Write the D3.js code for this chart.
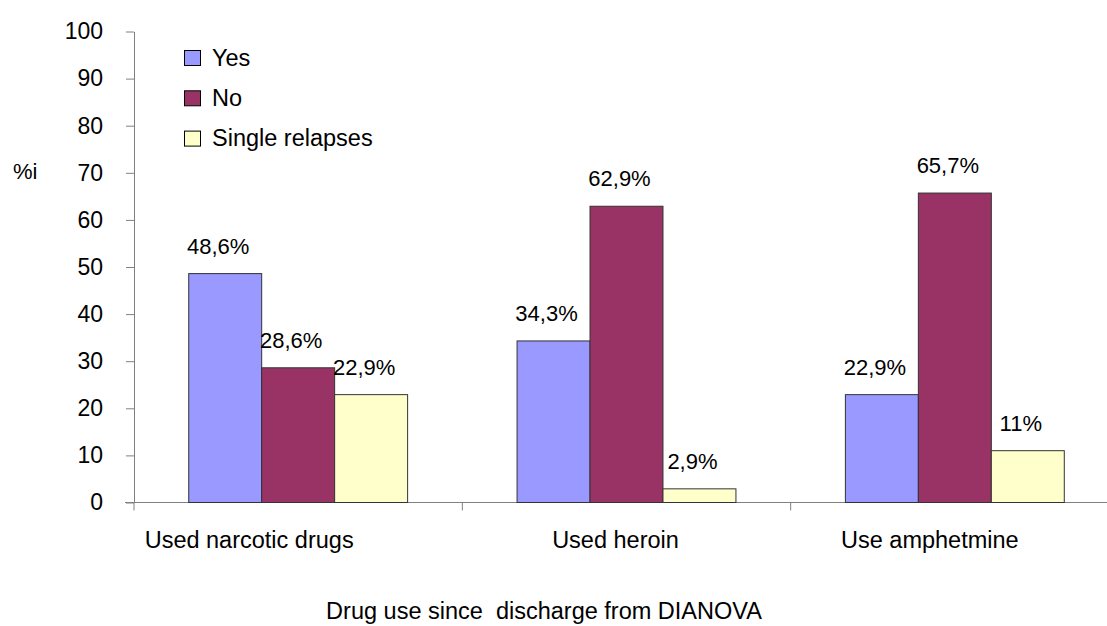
<!DOCTYPE html>
<html lang="en">
<head>
  <meta charset="UTF-8">
  <title>Drug use since discharge from DIANOVA</title>
  <script src="https://d3js.org/d3.v7.min.js"></script>
  <style>
    body { margin: 0; background: #fff; }
    svg text { font-family: Arial, "Liberation Sans", sans-serif; fill: #000; }
  </style>
</head>
<body>
  <div id="chart"></div>

  <script>
    // Chart data
    const categories = ['Used narcotic drugs', 'Used heroin', 'Use amphetmine'];
    const seriesNames = ['Yes', 'No', 'Single relapses'];
    const yesValues = [48.6, 34.3, 22.9];
    const noValues = [28.6, 62.9, 65.7];
    const singleValues = [22.9, 2.9, 11];
    const valueLabels = [
      ['48,6%', '34,3%', '22,9%'],
      ['28,6%', '62,9%', '65,7%'],
      ['22,9%', '2,9%', '11%']
    ];
    const yTicks = [0, 10, 20, 30, 40, 50, 60, 70, 80, 90, 100];
    const yLabel = '%i';
    const xTitle = 'Drug use since  discharge from DIANOVA';

    const seriesValues = [yesValues, noValues, singleValues];
    const colors = ['#9999FF', '#993366', '#FFFFCC'];

    const width = 1107;
    const height = 626;
    const fontSize = 23.5;
    const valueFontSize = 22;

    const svg = d3.select('#chart')
      .append('svg')
      .attr('width', width)
      .attr('height', height);

    // Scales
    const x0 = d3.scaleBand()
      .domain(categories)
      .range([134, 1119])
      .padding(0);

    const x1 = d3.scaleBand()
      .domain(seriesNames)
      .range([x0.bandwidth() / 6, x0.bandwidth() * 5 / 6])
      .padding(0);

    const y = d3.scaleLinear()
      .domain([0, 100])
      .range([502.5, 31.5]);

    // Y axis
    const yAxis = svg.append('g')
      .attr('transform', 'translate(134,0)')
      .call(d3.axisLeft(y).tickValues(yTicks).tickSize(8).tickPadding(23).tickSizeOuter(0));
    yAxis.select('.domain').attr('stroke', '#808080');
    yAxis.selectAll('.tick line').attr('stroke', '#808080');
    yAxis.selectAll('.tick text')
      .style('font-size', '23px')
      .attr('fill', '#000');

    // X axis (ticks between categories)
    const xAxis = svg.append('g')
      .attr('transform', `translate(0,${y(0)})`);
    xAxis.append('line')
      .attr('x1', 125).attr('x2', width)
      .attr('y1', 0).attr('y2', 0)
      .attr('stroke', '#808080');
    xAxis.selectAll('.cat-tick')
      .data(categories)
      .enter()
      .append('line')
      .attr('x1', d => x0(d)).attr('x2', d => x0(d))
      .attr('y1', 0).attr('y2', 8)
      .attr('stroke', '#808080');

    // Category labels (placed as in the original)
    const labelShift = [-49, -11, -25];
    svg.selectAll('.cat-label')
      .data(categories)
      .enter()
      .append('text')
      .attr('x', (d, i) => x0(d) + x0.bandwidth() / 2 + labelShift[i])
      .attr('y', 548)
      .attr('text-anchor', 'middle')
      .style('font-size', fontSize + 'px')
      .text(d => d);

    // Bars
    const groups = svg.selectAll('.group')
      .data(categories)
      .enter()
      .append('g')
      .attr('transform', d => `translate(${x0(d)},0)`);

    groups.selectAll('rect')
      .data((d, i) => seriesNames.map((s, j) => ({ s, j, v: seriesValues[j][i] })))
      .enter()
      .append('rect')
      .attr('x', d => x1(d.s))
      .attr('y', d => y(d.v))
      .attr('width', x1.bandwidth())
      .attr('height', d => y(0) - y(d.v))
      .attr('fill', d => colors[d.j])
      .attr('stroke', '#333')
      .attr('stroke-width', 1);

    // Value labels
    groups.selectAll('.val')
      .data((d, i) => seriesNames.map((s, j) => ({ s, v: seriesValues[j][i], t: valueLabels[j][i] })))
      .enter()
      .append('text')
      .attr('x', d => x1(d.s) + x1.bandwidth() / 2 - 7)
      .attr('y', d => y(d.v) - 20)
      .attr('text-anchor', 'middle')
      .style('font-size', valueFontSize + 'px')
      .text(d => d.t);

    // Legend
    const legend = svg.append('g');
    seriesNames.forEach((name, i) => {
      const ly = 50.5 + i * 40.3;
      legend.append('rect')
        .attr('x', 184.5).attr('y', ly)
        .attr('width', 16).attr('height', 15)
        .attr('fill', colors[i])
        .attr('stroke', '#000')
        .attr('stroke-width', 1);
      legend.append('text')
        .attr('x', 212).attr('y', ly + 15)
        .style('font-size', fontSize + 'px')
        .text(name);
    });

    // Axis titles
    svg.append('text')
      .attr('x', 13).attr('y', 179)
      .style('font-size', '22px')
      .text(yLabel);

    svg.append('text')
      .attr('x', 544).attr('y', 619)
      .attr('text-anchor', 'middle')
      .attr('xml:space', 'preserve')
      .style('white-space', 'pre')
      .style('font-size', fontSize + 'px')
      .text(xTitle);
  </script>
</body>
</html>
